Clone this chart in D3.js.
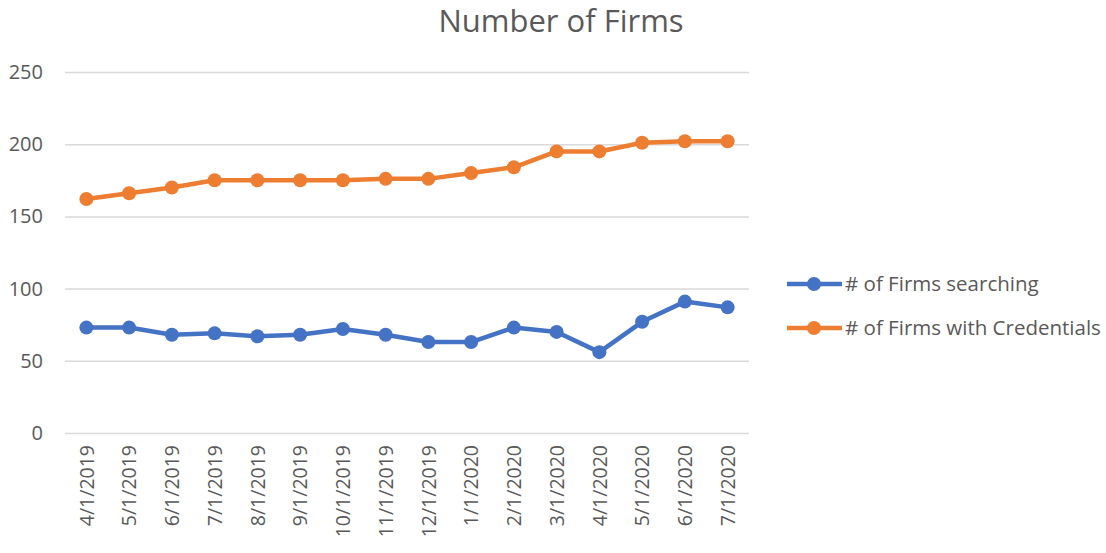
<!DOCTYPE html>
<html><head><meta charset="utf-8">
<script src="https://cdn.jsdelivr.net/npm/d3@7"></script>
<style>body{margin:0;background:#fff}svg{display:block}</style>
</head><body><svg id="c" width="1106" height="553"></svg>
<script>
const categories = ["4/1/2019","5/1/2019","6/1/2019","7/1/2019","8/1/2019","9/1/2019","10/1/2019","11/1/2019","12/1/2019","1/1/2020","2/1/2020","3/1/2020","4/1/2020","5/1/2020","6/1/2020","7/1/2020"];
const searching = [73,73,68,69,67,68,72,68,63,63,73,70,56,77,91,87];
const credentials = [162,166,170,175,175,175,175,176,176,180,184,195,195,201,202,202];
const yTicks = [0,50,100,150,200,250];
const seriesNames = ["# of Firms searching","# of Firms with Credentials"];
const colors = ["#4472C4","#ED7D31"];

(function(){
const svg = d3.select("#c");
const font = "'Open Sans', 'Segoe UI', sans-serif";
const pLeft = 65, pRight = 749, pTop = 72, pBottom = 433;
const x = d3.scalePoint().domain(categories).range([pLeft, pRight]).padding(0.5);
const y = d3.scaleLinear().domain([0,250]).range([pBottom, pTop]);

svg.append("text").attr("x", 561).attr("y", 32).attr("text-anchor","middle")
  .attr("font-family", font).attr("font-size", 31).attr("fill","#595959").text("Number of Firms");

const yAxis = svg.append("g").attr("transform",`translate(${pLeft},0)`)
  .call(d3.axisLeft(y).tickValues(yTicks).tickSize(-(pRight-pLeft)).tickPadding(22));
yAxis.select(".domain").remove();
yAxis.selectAll("line").attr("stroke","#D9D9D9").attr("stroke-width",1.5);
yAxis.selectAll("text").attr("font-family",font).attr("font-size",20).attr("fill","#595959");

const xAxis = svg.append("g").attr("transform",`translate(0,${pBottom})`)
  .call(d3.axisBottom(x).tickSize(0).tickPadding(0));
xAxis.select(".domain").remove();
xAxis.selectAll("text").attr("font-family",font).attr("font-size",19.5).attr("fill","#595959")
  .attr("text-anchor","end").attr("dy","0.35em").attr("y",0)
  .attr("transform","translate(0,12) rotate(-90)");

const data = [searching, credentials];
const line = d3.line().x((d,i)=>x(categories[i])).y(d=>y(d));
data.forEach((vals, k) => {
  const g = svg.append("g");
  g.append("path").datum(vals).attr("d", line).attr("fill","none")
    .attr("stroke", colors[k]).attr("stroke-width", 4.5).attr("stroke-linejoin","round");
  g.selectAll("circle").data(vals).join("circle")
    .attr("cx",(d,i)=>x(categories[i])).attr("cy",d=>y(d)).attr("r",7).attr("fill",colors[k]);
});

const leg = svg.append("g");
seriesNames.forEach((name,k)=>{
  const ly = 284 + k*44;
  leg.append("line").attr("x1",787).attr("x2",842).attr("y1",ly).attr("y2",ly)
    .attr("stroke",colors[k]).attr("stroke-width",4.5);
  leg.append("circle").attr("cx",814).attr("cy",ly).attr("r",7).attr("fill",colors[k]);
  leg.append("text").attr("x",845).attr("y",ly).attr("dy","0.35em")
    .attr("font-family",font).attr("font-size",20.5).attr("fill","#595959").text(name);
});
})();
</script></body></html>
